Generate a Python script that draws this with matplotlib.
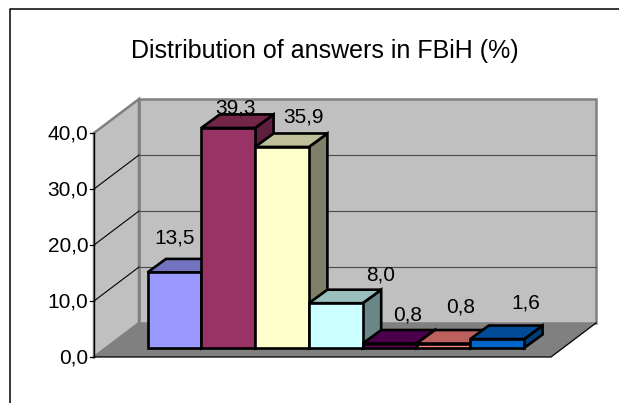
import matplotlib
matplotlib.use("Agg")
import matplotlib.pyplot as plt
from matplotlib.patches import Polygon

plt.rcParams['font.family'] = ['Liberation Sans', 'DejaVu Sans']

title = "Distribution of answers in FBiH (%)"
values = [13.5, 39.3, 35.9, 8.0, 0.8, 0.8, 1.6]
value_labels = ["13,5", "39,3", "35,9", "8,0", "0,8", "0,8", "1,6"]
tick_values = [0, 10, 20, 30, 40]
tick_labels = ["0,0", "10,0", "20,0", "30,0", "40,0"]
front_colors = ["#9999FF", "#993366", "#FFFFCC", "#CCFFFF", "#660066", "#FF8080", "#0066CC"]
top_colors = ["#7373BF", "#732648", "#BFBF99", "#99BFBF", "#4C004C", "#BF6060", "#004C99"]
side_colors = ["#5C5C99", "#5C1F3D", "#80806A", "#6B8686", "#3D003D", "#995050", "#003D7A"]

# hand placed label centres, pixels
label_x = [174.5, 235, 303, 381, 408, 461, 526]
label_y = [238, 108, 117, 275, 315, 307, 303]

# layout in pixels
UNIT = 5.6
FLOOR_X, FLOOR_Y = 94, 357
FLOOR_W = 457
DEPTH_X, DEPTH_Y = 45, -34
BAR_X, BAR_Y = 147.5, 348
BAR_W = 53.8
BAR_DX, BAR_DY = 18.5, -13.5
TOP = max(tick_values)


def floor_pt(x, v, z):
    # x along floor, v = value, z = 0..1 into the depth
    return (FLOOR_X + x + z * DEPTH_X, FLOOR_Y - v * UNIT + z * DEPTH_Y)


fig = plt.figure(figsize=(6.19, 4.03), dpi=100)
ax = fig.add_axes([0, 0, 1, 1])
ax.set_xlim(0, 619)
ax.set_ylim(403, 0)
ax.axis('off')

# chart frame
ax.plot([9.5, 9.5, 619], [403, 8.5, 8.5], color='black', lw=1.1, zorder=1)

# walls and floor
ax.add_patch(Polygon([floor_pt(0, 0, 1), floor_pt(FLOOR_W, 0, 1), floor_pt(FLOOR_W, TOP, 1), floor_pt(0, TOP, 1)],
                     fc='#C0C0C0', ec='#808080', lw=1.8, zorder=2))
ax.add_patch(Polygon([floor_pt(0, 0, 0), floor_pt(0, 0, 1), floor_pt(0, TOP, 1), floor_pt(0, TOP, 0)],
                     fc='#C0C0C0', ec='#808080', lw=1.8, zorder=2))
ax.add_patch(Polygon([floor_pt(0, 0, 0), floor_pt(FLOOR_W, 0, 0), floor_pt(FLOOR_W, 0, 1), floor_pt(0, 0, 1)],
                     fc='#808080', ec='none', zorder=2))
a = floor_pt(0, 0, 0)
b = floor_pt(FLOOR_W, 0, 0)
c = floor_pt(FLOOR_W, 0, 1)
ax.plot([a[0], b[0], c[0]], [a[1], b[1], c[1]], color='black', lw=0.9, zorder=3)

# gridlines, ticks, tick labels
for v, lab in zip(tick_values, tick_labels):
    p0 = floor_pt(0, v, 0)
    p1 = floor_pt(0, v, 1)
    p2 = floor_pt(FLOOR_W, v, 1)
    if 0 < v < TOP:
        ax.plot([p0[0], p1[0]], [p0[1], p1[1]], color='black', lw=0.8, zorder=3)
        ax.plot([p1[0], p2[0]], [p1[1], p2[1]], color='#4A4A4A', lw=0.8, zorder=3)
    ax.plot([p0[0] - 4, p0[0]], [p0[1], p0[1]], color='black', lw=0.9, zorder=3)
    ax.text(p0[0] - 5.5, p0[1] + 1.5, lab, ha='right', va='center', fontsize=15, zorder=6)
p0 = floor_pt(0, 0, 0)
p1 = floor_pt(0, TOP, 0)
ax.plot([p0[0], p1[0]], [p0[1], p1[1]], color='black', lw=0.9, zorder=3)

# bars
for i, v in enumerate(values):
    x0 = BAR_X + i * BAR_W
    x1 = x0 + BAR_W
    y0 = BAR_Y
    y1 = BAR_Y - v * UNIT
    ax.add_patch(Polygon([(x1, y0), (x1 + BAR_DX, y0 + BAR_DY), (x1 + BAR_DX, y1 + BAR_DY), (x1, y1)],
                         fc=side_colors[i], ec='black', lw=1.9, joinstyle='miter', zorder=4))
    ax.add_patch(Polygon([(x0, y1), (x1, y1), (x1 + BAR_DX, y1 + BAR_DY), (x0 + BAR_DX, y1 + BAR_DY)],
                         fc=top_colors[i], ec='black', lw=1.9, joinstyle='miter', zorder=4))
    ax.add_patch(Polygon([(x0, y0), (x1, y0), (x1, y1), (x0, y1)],
                         fc=front_colors[i], ec='black', lw=1.9, joinstyle='miter', zorder=4))

for x, y, lab in zip(label_x, label_y, value_labels):
    ax.text(x, y, lab, ha='center', va='center', fontsize=15, zorder=6)

ax.text(324.5, 51, title, ha='center', va='center', fontsize=18, zorder=6)

fig.savefig("out.png", dpi=100)
